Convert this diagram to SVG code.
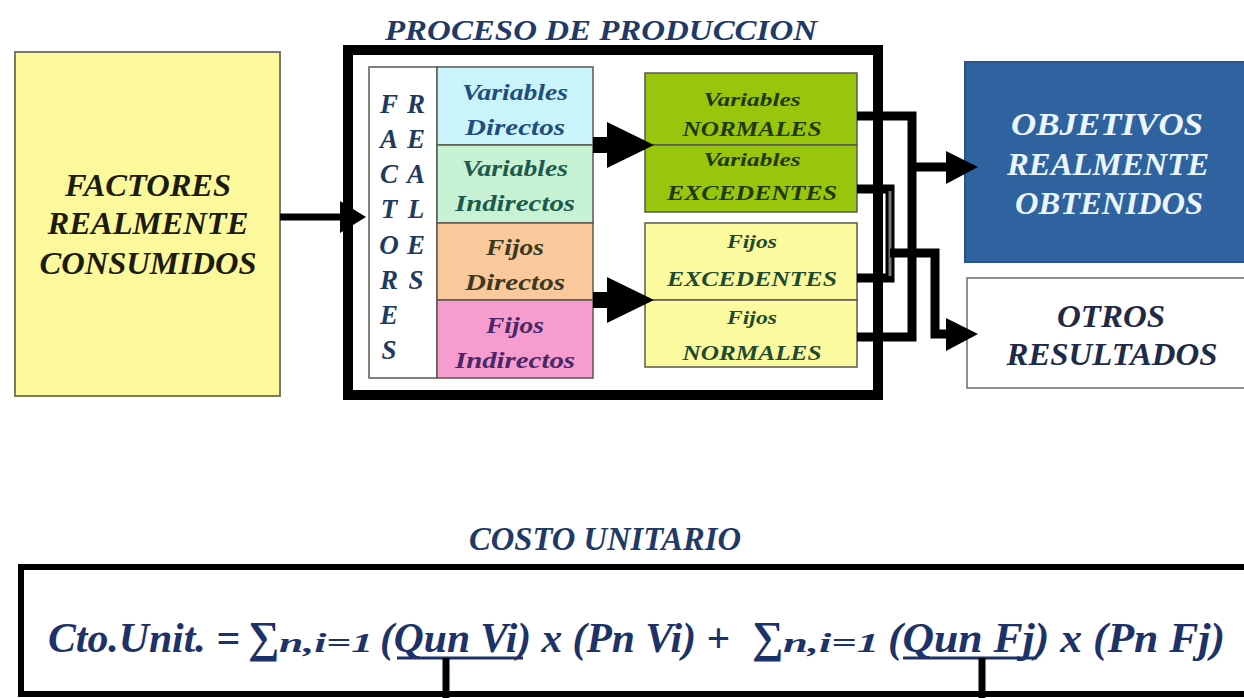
<svg xmlns="http://www.w3.org/2000/svg" width="1244" height="698" viewBox="0 0 1244 698">
<style>
  text { font-family: "Liberation Serif", "Times New Roman", serif; font-weight: bold; font-style: italic; }
  .c { text-anchor: middle; }
  .thin { stroke: #5a5a50; stroke-width: 1.5; }
  .conn { fill: none; stroke: #000; stroke-width: 9; stroke-linejoin: miter; }
  .head { fill: #000; }
  .navy { fill: #1f3a66; }
</style>
<rect width="1244" height="698" fill="#ffffff"/>

<g id="titulo-proceso">
  <text x="601" y="40" class="c navy" font-size="30" textLength="432" lengthAdjust="spacingAndGlyphs">PROCESO DE PRODUCCION</text>
</g>

<g id="factores-consumidos">
  <rect x="15" y="52" width="265" height="344" fill="#fcf99c" stroke="#7a7a60" stroke-width="2"/>
  <text x="148" y="196" class="c" font-size="32" fill="#1b1b0e" textLength="166" lengthAdjust="spacingAndGlyphs">FACTORES</text>
  <text x="148" y="234" class="c" font-size="32" fill="#1b1b0e" textLength="201" lengthAdjust="spacingAndGlyphs">REALMENTE</text>
  <text x="148" y="274" class="c" font-size="32" fill="#1b1b0e" textLength="217" lengthAdjust="spacingAndGlyphs">CONSUMIDOS</text>
</g>

<g id="proceso-produccion">
  <rect x="348" y="50" width="530" height="345" fill="#ffffff" stroke="#000" stroke-width="10"/>
</g>

<g id="factores-reales">
  <rect x="369" y="67" width="68" height="311" fill="#ffffff" class="thin"/>
  <g font-size="27" fill="#1f3a5f">
    <text x="389" y="113" class="c">F</text><text x="416" y="113" class="c">R</text>
    <text x="389" y="148" class="c">A</text><text x="416" y="148" class="c">E</text>
    <text x="389" y="183" class="c">C</text><text x="416" y="183" class="c">A</text>
    <text x="389" y="218" class="c">T</text><text x="416" y="218" class="c">L</text>
    <text x="389" y="254" class="c">O</text><text x="416" y="254" class="c">E</text>
    <text x="389" y="289" class="c">R</text><text x="416" y="289" class="c">S</text>
    <text x="389" y="324" class="c">E</text>
    <text x="389" y="359" class="c">S</text>
  </g>
</g>

<g id="variables-directos">
  <rect x="437" y="67" width="156" height="78" fill="#c9f4fb" class="thin"/>
  <text x="515" y="100" class="c" font-size="24" fill="#1f4e7d" textLength="106" lengthAdjust="spacingAndGlyphs">Variables</text>
  <text x="515" y="135" class="c" font-size="24" fill="#1f4e7d" textLength="100" lengthAdjust="spacingAndGlyphs">Directos</text>
</g>
<g id="variables-indirectos">
  <rect x="437" y="145" width="156" height="78" fill="#c7f3d4" class="thin"/>
  <text x="515" y="176" class="c" font-size="24" fill="#1d5a4c" textLength="106" lengthAdjust="spacingAndGlyphs">Variables</text>
  <text x="515" y="211" class="c" font-size="24" fill="#1d5a4c" textLength="120" lengthAdjust="spacingAndGlyphs">Indirectos</text>
</g>
<g id="fijos-directos">
  <rect x="437" y="223" width="156" height="77" fill="#f9c89b" class="thin"/>
  <text x="515" y="255" class="c" font-size="24" fill="#3b3820" textLength="58" lengthAdjust="spacingAndGlyphs">Fijos</text>
  <text x="515" y="290" class="c" font-size="24" fill="#3b3820" textLength="100" lengthAdjust="spacingAndGlyphs">Directos</text>
</g>
<g id="fijos-indirectos">
  <rect x="437" y="300" width="156" height="78" fill="#f69ccf" class="thin"/>
  <text x="515" y="333" class="c" font-size="24" fill="#4a2868" textLength="58" lengthAdjust="spacingAndGlyphs">Fijos</text>
  <text x="515" y="368" class="c" font-size="24" fill="#4a2868" textLength="120" lengthAdjust="spacingAndGlyphs">Indirectos</text>
</g>

<g id="variables-normales">
  <rect x="645" y="73" width="212" height="72" fill="#98c60c" class="thin"/>
  <text x="752" y="106" class="c" font-size="19" fill="#22380e" textLength="97" lengthAdjust="spacingAndGlyphs">Variables</text>
  <text x="752" y="136" class="c" font-size="22" fill="#22380e" textLength="139" lengthAdjust="spacingAndGlyphs">NORMALES</text>
</g>
<g id="variables-excedentes">
  <rect x="645" y="145" width="212" height="67" fill="#98c60c" class="thin"/>
  <text x="752" y="166" class="c" font-size="19" fill="#22380e" textLength="97" lengthAdjust="spacingAndGlyphs">Variables</text>
  <text x="752" y="200" class="c" font-size="22" fill="#22380e" textLength="170" lengthAdjust="spacingAndGlyphs">EXCEDENTES</text>
</g>
<g id="fijos-excedentes">
  <rect x="645" y="223" width="212" height="77" fill="#fbfa9e" class="thin"/>
  <text x="752" y="248" class="c" font-size="19" fill="#1f4a30" textLength="50" lengthAdjust="spacingAndGlyphs">Fijos</text>
  <text x="752" y="286" class="c" font-size="22" fill="#1f4a30" textLength="170" lengthAdjust="spacingAndGlyphs">EXCEDENTES</text>
</g>
<g id="fijos-normales">
  <rect x="645" y="300" width="212" height="67" fill="#fbfa9e" class="thin"/>
  <text x="752" y="324" class="c" font-size="19" fill="#1f4a30" textLength="50" lengthAdjust="spacingAndGlyphs">Fijos</text>
  <text x="752" y="360" class="c" font-size="22" fill="#1f4a30" textLength="139" lengthAdjust="spacingAndGlyphs">NORMALES</text>
</g>

<g id="objetivos-obtenidos">
  <rect x="965" y="62" width="285" height="200" fill="#2f63a0" stroke="#27528a" stroke-width="2"/>
  <text x="1107" y="135" class="c" font-size="32" fill="#eaf5ff" textLength="192" lengthAdjust="spacingAndGlyphs">OBJETIVOS</text>
  <text x="1108" y="175" class="c" font-size="32" fill="#eaf5ff" textLength="202" lengthAdjust="spacingAndGlyphs">REALMENTE</text>
  <text x="1109" y="214" class="c" font-size="32" fill="#eaf5ff" textLength="188" lengthAdjust="spacingAndGlyphs">OBTENIDOS</text>
</g>

<g id="otros-resultados">
  <rect x="967" y="278" width="285" height="110" fill="#ffffff" stroke="#6a6a6a" stroke-width="1.5"/>
  <text x="1111" y="327" class="c" font-size="32" fill="#1f2a48" textLength="108" lengthAdjust="spacingAndGlyphs">OTROS</text>
  <text x="1112" y="365" class="c" font-size="32" fill="#1f2a48" textLength="211" lengthAdjust="spacingAndGlyphs">RESULTADOS</text>
</g>

<g id="titulo-costo">
  <text x="605" y="550" class="c navy" font-size="34" textLength="272" lengthAdjust="spacingAndGlyphs">COSTO UNITARIO</text>
</g>

<g id="formula-costo">
  <rect x="21" y="567" width="1240" height="127" fill="#ffffff" stroke="#000" stroke-width="6"/>
  <g fill="#1c3268" font-size="42">
    <text x="48" y="652" textLength="192" lengthAdjust="spacingAndGlyphs">Cto.Unit. =</text>
    <text x="248" y="652" font-size="44">∑</text>
    <text x="279" y="652" font-size="27" textLength="94" lengthAdjust="spacingAndGlyphs">n,i=1</text>
    <text x="380" y="652" textLength="350" lengthAdjust="spacingAndGlyphs">(Qun Vi) x (Pn Vi) +</text>
    <text x="752" y="652" font-size="44">∑</text>
    <text x="783" y="652" font-size="27" textLength="96" lengthAdjust="spacingAndGlyphs">n,i=1</text>
    <text x="888" y="652" textLength="337" lengthAdjust="spacingAndGlyphs">(Qun Fj) x (Pn Fj)</text>
  </g>
  <line x1="397" y1="658" x2="523" y2="658" stroke="#1c3268" stroke-width="3"/>
  <line x1="903" y1="658" x2="1037" y2="658" stroke="#1c3268" stroke-width="3"/>
</g>

<g id="connectors">
  <line x1="280" y1="217" x2="345" y2="217" stroke="#000" stroke-width="7"/>
  <polygon class="head" points="366,217 340,201 340,233"/>

  <rect x="593" y="137" width="16" height="16" class="head"/>
  <polygon class="head" points="654,145 607,122 607,168"/>
  <rect x="593" y="292" width="16" height="16" class="head"/>
  <polygon class="head" points="654,300 607,277 607,323"/>

  <polyline class="conn" points="857,116 912,116 912,337 857,337"/>
  <polyline class="conn" points="912,167 950,167"/>
  <polygon class="head" points="978,167 946,151 946,184"/>

  <polyline class="conn" points="857,189 890,189 890,278 857,278"/>
  <line x1="890" y1="191" x2="890" y2="276" stroke="#777" stroke-width="3"/>
  <polyline class="conn" points="890,253 935,253 935,334 950,334"/>
  <polygon class="head" points="978,334 946,318 946,351"/>

  <line x1="446" y1="658" x2="446" y2="698" stroke="#000" stroke-width="7"/>
  <line x1="982" y1="658" x2="982" y2="698" stroke="#000" stroke-width="7"/>
</g>
</svg>
